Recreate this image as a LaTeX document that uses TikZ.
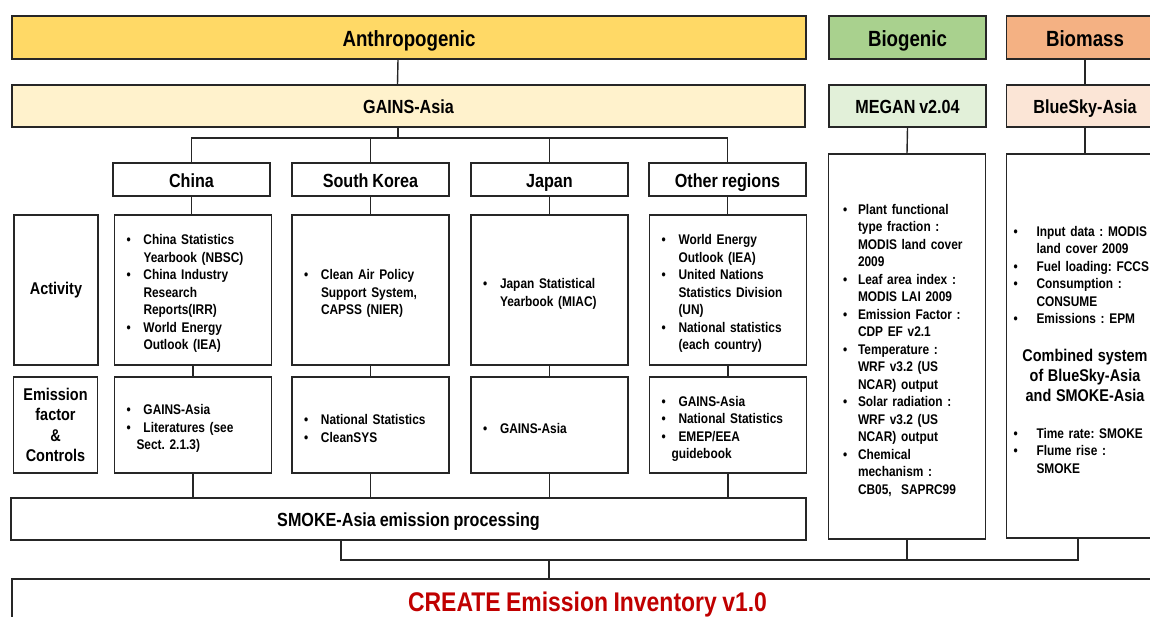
\documentclass[tikz,border=0pt]{standalone}
\usepackage{fontspec}
\setmainfont{Liberation Sans}[FakeStretch=0.85, WordSpace=0.85]
\usepackage{tikz}
\usetikzlibrary{positioning,calc}
\frenchspacing

\definecolor{anthroFill}{HTML}{FFD966}
\definecolor{gainsFill}{HTML}{FFF2CC}
\definecolor{bioFill}{HTML}{A9D18E}
\definecolor{meganFill}{HTML}{E2F0D9}
\definecolor{massFill}{HTML}{F4B183}
\definecolor{blueFill}{HTML}{FBE5D6}
\definecolor{createRed}{HTML}{C00000}

% bullet item with hanging indent
\newcommand{\itm}[2][17pt]{\par\hangindent=#1\hangafter=1\noindent\makebox[#1][l]{\textbullet}#2\par}

\tikzset{
  wire/.style={line width=1.4pt, draw=black!85},
  hdr/.style={draw=black!85, line width=1.4pt, rectangle, minimum height=43pt, text height=17pt, text depth=0pt, font=\fontsize{22}{26}\selectfont\bfseries},
  model/.style={hdr, minimum height=42pt, text height=15.5pt, text depth=0pt, font=\fontsize{19}{23}\selectfont\bfseries},
  region/.style={draw=black!85, line width=1.4pt, minimum width=157pt, minimum height=33pt, inner sep=0pt, text height=15.5pt, text depth=0pt, font=\fontsize{19}{23}\selectfont\bfseries},
  cell/.style={draw=black!85, line width=1.4pt, minimum width=157pt, text width=133pt, inner xsep=12pt, align=left, font=\fontsize{14}{17.5}\selectfont\bfseries},
  actcell/.style={cell, minimum height=150pt},
  emicell/.style={cell, minimum height=96pt},
  rowlabel/.style={draw=black!85, line width=1.4pt, minimum width=84pt, text width=80pt, inner xsep=2pt, align=center, font=\fontsize{17}{20.5}\selectfont\bfseries},
  detail/.style={cell, minimum width=157pt, minimum height=385pt}
}

\begin{document}
\begin{tikzpicture}[x=1pt, y=-1pt]
    \useasboundingbox (0,0) rectangle (1150,616);
    \clip (0,0) rectangle (1150,616);

    % Top headers
    \node[hdr, fill=anthroFill, minimum width=794pt] (anthro) at (409,37.5) {Anthropogenic};
    \node[hdr, fill=bioFill, minimum width=157pt] (biogen) at (907.5,37.5) {Biogenic};
    \node[hdr, fill=massFill, minimum width=157pt] (biomass) at (1085,37.5) {Biomass};

    % Models
    \node[model, fill=gainsFill, minimum width=793pt] (gains) at (408.5,106) {GAINS-Asia};
    \node[model, fill=meganFill, minimum width=157pt] (megan) at (907.5,106) {MEGAN v2.04};
    \node[model, fill=blueFill, minimum width=157pt] (bluesky) at (1085,106) {BlueSky-Asia};

    % Regions
    \node[region] (china) at (191.5,179.5) {China};
    \node[region] (korea) at (370.5,179.5) {South Korea};
    \node[region] (japan) at (549.5,179.5) {Japan};
    \node[region] (other) at (727.5,179.5) {Other regions};

    % Row labels
    \node[rowlabel, minimum height=150pt] (actlbl) at (56,290) {Activity};
    \node[rowlabel, minimum height=96pt] (emilbl) at (55.5,425) {Emission\\ factor\\ \&\\ Controls};

    % Activity data
    \node[actcell] (china-act) at (193,290) {\itm{China Statistics\newline Yearbook (NBSC)}\itm{China Industry\newline Research\newline Reports(IRR)}\itm{World Energy\newline Outlook (IEA)}};
    \node[actcell] (korea-act) at (370.5,290) {\itm{Clean Air Policy\newline Support System,\newline CAPSS (NIER)}};
    \node[actcell] (japan-act) at (549.5,290) {\itm{Japan Statistical\newline Yearbook (MIAC)}};
    \node[actcell] (other-act) at (728,290) {\itm{World Energy\newline Outlook (IEA)}\itm{United Nations\newline Statistics Division\newline (UN)}\itm{National statistics\newline (each country)}};

    % Emission factors and controls
    \node[emicell] (china-emi) at (193,425) {\itm{GAINS-Asia}\itm{Literatures (see\newline\hspace*{-7pt}Sect. 2.1.3)}};
    \node[emicell] (korea-emi) at (370.5,425) {\itm{National Statistics}\itm{CleanSYS}};
    \node[emicell] (japan-emi) at (549.5,425) {\itm{GAINS-Asia}};
    \node[emicell] (other-emi) at (728,425) {\itm{GAINS-Asia}\itm{National Statistics}\itm{EMEP/EEA\newline\hspace*{-7pt}guidebook}};

    % Biogenic and biomass details
    \node[detail, text width=128pt, inner xsep=14pt] (megandet) at (907,346.5) {\itm[15pt]{Plant functional\newline type fraction :\newline MODIS land cover\newline 2009}\itm[15pt]{Leaf area index :\newline MODIS LAI 2009}\itm[15pt]{Emission Factor :\newline CDP EF v2.1}\itm[15pt]{Temperature :\newline WRF v3.2 (US\newline NCAR) output}\itm[15pt]{Solar radiation :\newline WRF v3.2 (US\newline NCAR) output}\itm[15pt]{Chemical\newline mechanism :\newline CB05,\ \ SAPRC99}};
    \node[detail, text width=143pt, inner xsep=7pt, minimum height=384pt] (bluedet) at (1085,346) {\itm[23pt]{Input data : MODIS\newline land cover 2009}\itm[23pt]{Fuel loading: FCCS}\itm[23pt]{Consumption :\newline CONSUME}\itm[23pt]{Emissions : EPM}\vspace{18pt}{\centering\fontsize{17}{20}\selectfont Combined system\\ of BlueSky-Asia\\ and SMOKE-Asia\par}\vspace{19pt}\itm[23pt]{Time rate: SMOKE}\itm[23pt]{Flume rise :\newline SMOKE}};

    % Processing and inventory
    \node[model, minimum width=795pt] (smoke) at (408.5,519) {SMOKE-Asia emission processing};
    \node[hdr, minimum width=1151pt, minimum height=52pt, text height=20pt, text depth=6.6pt, text=createRed, font=\fontsize{27}{32}\selectfont\bfseries] (create) at (587.5,605) {CREATE Emission Inventory v1.0};

    % Connectors
    \draw[wire] ([xshift=-11pt]anthro.south) -- ([xshift=-11pt]gains.north);
    \coordinate (regbus) at (398,138);
    \draw[wire] (gains.south -| regbus) -- (regbus);
    \draw[wire] (china.north) |- (regbus) -| (other.north);
    \draw[wire] (korea.north) -- (korea.north |- regbus);
    \draw[wire] (japan.north) -- (japan.north |- regbus);
    \foreach \reg in {china,korea,japan,other} {
        \draw[wire] (\reg.south) -- (\reg.south |- \reg-act.north);
        \draw[wire] (\reg-act.south) -- (\reg-emi.north);
        \draw[wire] (\reg-emi.south) -- (\reg-emi.south |- smoke.north);
    }
    \draw[wire] (megan.south) -- (megandet.north);
    \draw[wire] (biomass.south) -- (bluesky.north);
    \draw[wire] (bluesky.south) -- (bluedet.north);

    \coordinate (outbus) at (341,560);
    \coordinate (joint) at (549,560);
    \draw[wire] (smoke.south -| outbus) -- (outbus) -| ([xshift=-7pt]bluedet.south);
    \draw[wire] (megandet.south) -- (megandet.south |- outbus);
    \draw[wire] (joint) -- (joint |- create.north);
\end{tikzpicture}
\end{document}
